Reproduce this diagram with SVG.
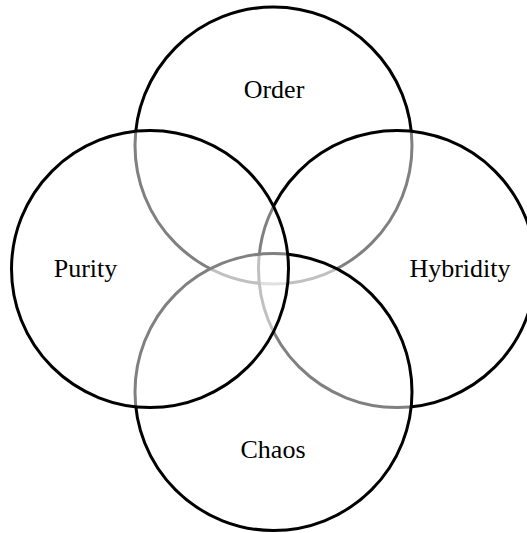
<svg xmlns="http://www.w3.org/2000/svg" width="527" height="533" viewBox="0 0 527 533">
  <style>
    .set { fill: #ffffff; fill-opacity: 0.5; stroke: #000000; stroke-width: 3; }
    .label { font-family: "Liberation Serif", "Times New Roman", serif; font-size: 26px; fill: #000000; text-anchor: middle; }
  </style>
  <rect x="0" y="0" width="527" height="533" fill="#ffffff"/>
  <g id="connectors"></g>
  <g id="order">
    <circle class="set" cx="273.5" cy="145.5" r="138.5"/>
    <text class="label" x="274" y="98">Order</text>
  </g>
  <g id="hybridity">
    <circle class="set" cx="397" cy="269" r="138.5"/>
    <text class="label" x="460" y="277">Hybridity</text>
  </g>
  <g id="chaos">
    <circle class="set" cx="273.5" cy="392" r="138.5"/>
    <text class="label" x="273" y="458">Chaos</text>
  </g>
  <g id="purity">
    <circle class="set" cx="150" cy="269" r="138.5"/>
    <text class="label" x="85.5" y="277">Purity</text>
  </g>
</svg>
